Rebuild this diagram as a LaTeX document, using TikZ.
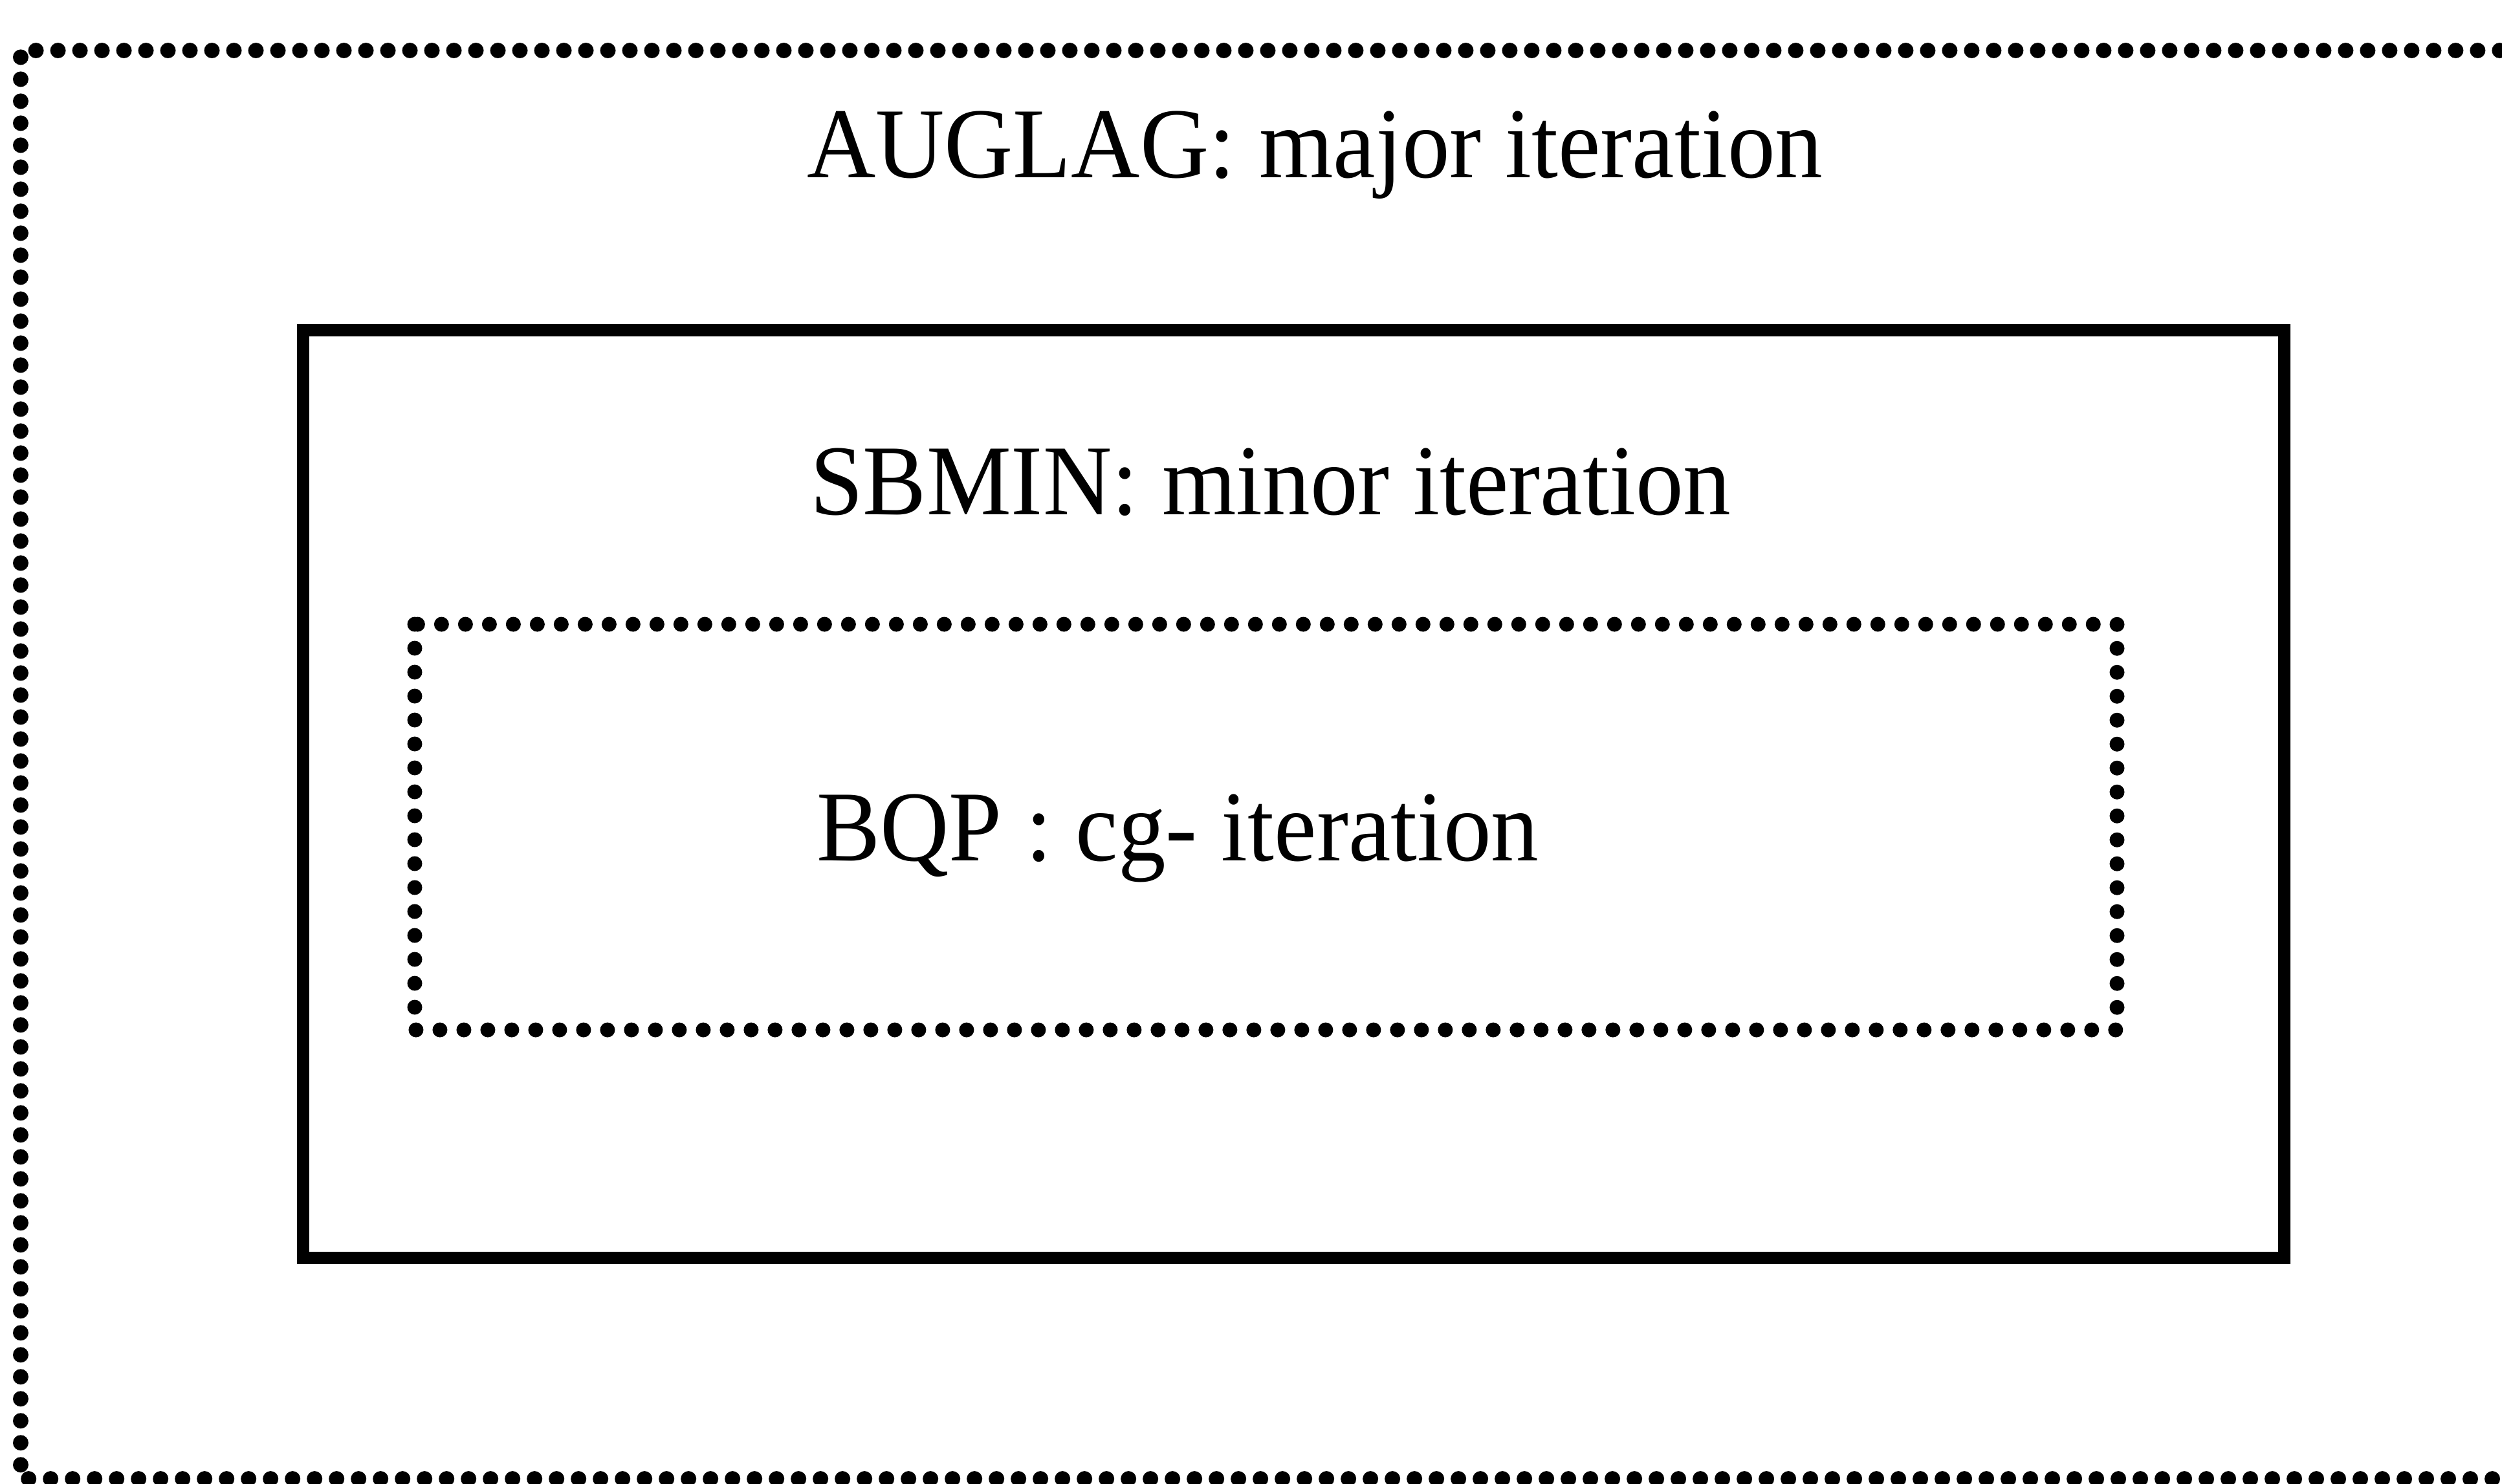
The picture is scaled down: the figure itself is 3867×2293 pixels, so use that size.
\documentclass[tikz,border=0pt]{standalone}
\usepackage{fontspec}
\setmainfont{Liberation Serif}
\newfontfamily\labelfont[FakeStretch=0.95]{Liberation Serif}
\begin{document}
\begin{tikzpicture}[x=0.1pt,y=-0.1pt,
  outerdots/.style={line width=2.4pt, line cap=round, dash pattern=on 0pt off 3.4pt},
  innerdots/.style={line width=2.3pt, line cap=round, dash pattern=on 0pt off 3.7pt},
  framebox/.style={line width=1.9pt, line join=miter},
  caption/.style={anchor=base west, inner sep=0pt, font=\labelfont\fontsize{15.5pt}{18pt}\selectfont}]
\useasboundingbox (0,0) rectangle (3867,2293);
\clip (0,0) rectangle (3867,2293);

% outer level: augmented Lagrangian loop (runs past the right edge)
\coordinate (augNW) at (32,78);
\coordinate (augSE) at (3920,2286);
\draw[outerdots] (augSE) -| (augNW) -| (augSE);

% middle level: minor iterations
\coordinate (sbNW) at (468,510);
\coordinate (sbSE) at (3530,1944);
\draw[framebox] (sbNW) rectangle (sbSE);

% inner level: conjugate-gradient iterations
\coordinate (bqNW) at (641,965);
\coordinate (bqSE) at (3272,1592);
\draw[innerdots] (bqNW) rectangle (bqSE);

\node[caption] (auglag) at (1245,274) {AUGLAG: major iteration};
\node[caption] (sbmin) at (1250,795) {SBMIN: minor iteration};
\node[caption] (bqp) at (1260,1330) {BQP : cg- iteration};
\end{tikzpicture}
\end{document}
